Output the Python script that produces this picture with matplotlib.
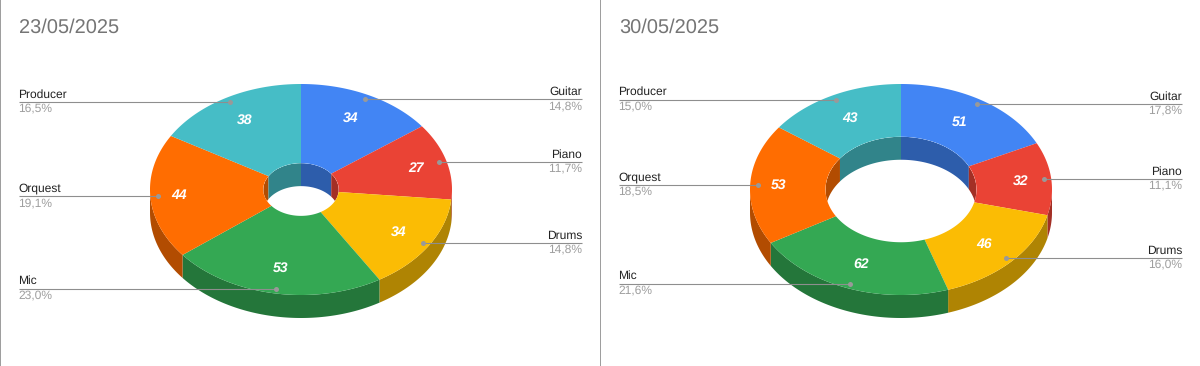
import numpy as np
import matplotlib
matplotlib.use("Agg")
import matplotlib.pyplot as plt
from matplotlib.patches import Ellipse

categories = ["Guitar", "Piano", "Drums", "Mic", "Orquest", "Producer"]
titles = ["23/05/2025", "30/05/2025"]
values_a = [34, 27, 34, 53, 44, 38]
values_b = [51, 32, 46, 62, 53, 43]
colors = ["#4285F4", "#EA4335", "#FBBC04", "#34A853", "#FF6D01", "#46BDC6"]
dark = ["#2D5DAB", "#A32F25", "#AF8403", "#24763A", "#B24C01", "#31848A"]

plt.rcParams["font.family"] = ["Liberation Sans", "DejaVu Sans"]
plt.rcParams["text.hinting"] = "no_hinting"
plt.rcParams["text.hinting_factor"] = 1
fig = plt.figure(figsize=(12, 3.66), dpi=100, facecolor="white")
ax = fig.add_axes([0, 0, 1, 1])
ax.set_xlim(0, 1200)
ax.set_ylim(366, 0)
ax.axis("off")

CY, RX, RY, DEPTH = 189.5, 151, 105.5, 23
PX = 1 / 100 * 72


def arc(cx, cy, f, a0, a1):
    t = np.radians(np.linspace(a0, a1, max(int(abs(a1 - a0)) * 2, 2)))
    return cx + RX * f * np.sin(t), cy - RY * f * np.cos(t)


def draw(values, title, off, hole):
    cx = off + 301
    total = sum(values)
    edges = np.concatenate([[0], np.cumsum(values)]) / total * 360
    clip = Ellipse((cx, CY), 2 * RX * hole, 2 * RY * hole, transform=ax.transData)

    for i in range(len(values)):
        a0, a1 = edges[i], edges[i + 1]
        # outer wall (front half only)
        lo, hi = max(a0, 90), min(a1, 270)
        if hi > lo:
            x, y = arc(cx, CY, 1, lo, hi)
            ax.fill(np.r_[x, x[::-1]], np.r_[y, y[::-1] + DEPTH], color=dark[i], lw=0, zorder=1)
        # inner wall (back half only), seen through the hole
        for lo, hi in ((a0, min(a1, 90)), (max(a0, 270), a1)):
            if hi > lo:
                x, y = arc(cx, CY, hole, lo, hi)
                p, = ax.fill(np.r_[x, x[::-1]], np.r_[y, y[::-1] + DEPTH], color=dark[i], lw=0, zorder=1)
                p.set_clip_path(clip)
        # top surface
        xo, yo = arc(cx, CY, 1, a0, a1)
        xi, yi = arc(cx, CY, hole, a1, a0)
        ax.fill(np.r_[xo, xi], np.r_[yo, yi], color=colors[i], lw=0, zorder=2)

    ax.text(off + 19, 28, title, fontsize=20 * PX, color="#757575", va="center", ha="left", zorder=6)

    for i, (cat, v) in enumerate(zip(categories, values)):
        mid = np.radians((edges[i] + edges[i + 1]) / 2)
        s, c = np.sin(mid), np.cos(mid)
        fx = 0.74 + (0.07 if s < 0 else 0.06) * s**4
        ax.text(cx + RX * fx * s - 0.5, CY - RY * 0.755 * c, str(v), color="white", fontsize=14 * PX,
                fontweight="bold", fontstyle="italic", ha="center", va="center", zorder=6)
        dx, dy = cx + RX * 0.95 * s, CY - RY * 0.955 * c
        right = s > 0
        lx = off + (582 if right else 19)
        tx = lx if right else lx - 0.7
        ax.plot([lx, dx], [dy, dy], color="#8e8e8e", lw=1.1 * PX, zorder=4, solid_capstyle="butt")
        ax.plot([dx], [dy], "o", ms=5 * PX, color="#999999", mew=0, zorder=5)
        ha = "right" if right else "left"
        pct = f"{v / total * 100:.1f}%".replace(".", ",")
        ax.text(tx, dy - 7.5, cat, fontsize=12 * PX, color="#222222", ha=ha, va="center", zorder=6)
        ax.text(tx, dy + 6.5, pct, fontsize=12 * PX, color="#9e9e9e", ha=ha, va="center", zorder=6)


draw(values_a, titles[0], 0, 0.25)
draw(values_b, titles[1], 600, 0.5)

for x in (0.5, 600.5):
    ax.plot([x, x], [0, 366], color="#9e9e9e", lw=1 * PX, zorder=7, clip_on=False, snap=False)

fig.savefig("out.png", dpi=100, facecolor="white")
